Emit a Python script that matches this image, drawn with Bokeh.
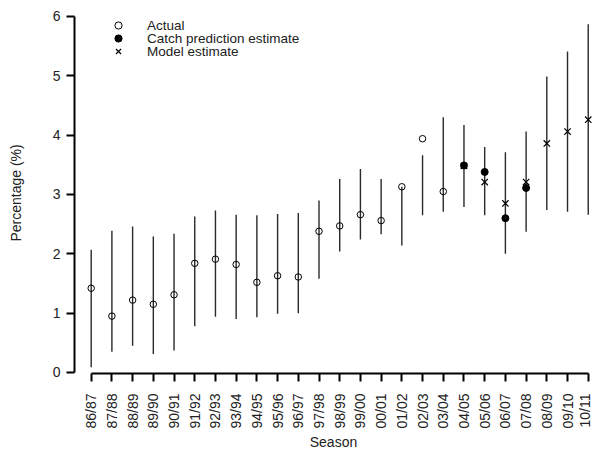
from math import pi
from bokeh.plotting import figure
from bokeh.models import FixedTicker, Legend, LegendItem, Range1d, ColumnDataSource
from bokeh.embed import file_html
from bokeh.resources import INLINE

seasons = ["86/87", "87/88", "88/89", "89/90", "90/91", "91/92", "92/93", "93/94",
           "94/95", "95/96", "96/97", "97/98", "98/99", "99/00", "00/01", "01/02",
           "02/03", "03/04", "04/05", "05/06", "06/07", "07/08", "08/09", "09/10", "10/11"]

actual = [1.42, 0.95, 1.22, 1.15, 1.31, 1.84, 1.91, 1.82, 1.52, 1.63, 1.61, 2.38,
          2.47, 2.66, 2.56, 3.13, 3.94, 3.05]
catch_pred = [3.49, 3.38, 2.60, 3.11]
catch_idx = [18, 19, 20, 21]
model = [3.48, 3.21, 2.85, 3.21, 3.86, 4.06, 4.26]
model_idx = [18, 19, 20, 21, 22, 23, 24]

upper = [2.07, 2.39, 2.46, 2.29, 2.34, 2.63, 2.73, 2.66, 2.65, 2.67, 2.69, 2.90,
         3.26, 3.43, 3.26, 3.13, 3.66, 4.30, 4.17, 3.80, 3.71, 4.06, 4.99, 5.41, 5.87]
lower = [0.09, 0.35, 0.45, 0.31, 0.37, 0.78, 0.94, 0.90, 0.93, 0.99, 1.00, 1.58,
         2.04, 2.24, 2.33, 2.14, 2.65, 2.71, 2.79, 2.65, 2.00, 2.37, 2.74, 2.71, 2.66]

legend_labels = ["Actual", "Catch prediction estimate", "Model estimate"]

xs = list(range(len(seasons)))

FONT = "Liberation Sans"

p = figure(width=592, height=452, output_backend="svg", toolbar_location=None,
           x_range=Range1d(-0.806, 24.206), y_range=Range1d(-0.017, 6.067),
           min_border_left=74, min_border_right=0, min_border_top=12, min_border_bottom=79)
p.outline_line_color = None
p.grid.visible = False
p.background_fill_color = "white"

bars = ColumnDataSource(dict(x=xs, lo=lower, hi=upper))
p.segment(x0="x", y0="lo", x1="x", y1="hi", source=bars, line_color="#2a2a2a", line_width=1.4)

r_act = p.scatter(xs[:len(actual)], actual, marker="circle", size=6.5,
                  line_color="black", fill_color=None, line_width=1)
r_cat = p.scatter(catch_idx, catch_pred, marker="circle", size=7,
                  line_color="black", fill_color="black")
r_mod = p.scatter(model_idx, model, marker="x", size=9, line_color="black", line_width=1.2)

# axes
xa = p.xaxis[0]
xa.ticker = FixedTicker(ticks=xs)
xa.major_label_overrides = {i: s for i, s in enumerate(seasons)}
xa.major_label_orientation = pi / 2
xa.bounds = (0, 24)
xa.axis_label = "Season"
ya = p.yaxis[0]
ya.ticker = FixedTicker(ticks=[0, 1, 2, 3, 4, 5, 6])
ya.bounds = (0, 6)
ya.axis_label = "Percentage (%)"

for ax in (xa, ya):
    ax.axis_line_width = 2
    ax.axis_line_color = "black"
    ax.major_tick_line_width = 2
    ax.major_tick_line_color = "black"
    ax.major_tick_in = 0
    ax.major_tick_out = 8
    ax.minor_tick_line_color = None
    ax.major_label_text_font = FONT
    ax.major_label_text_font_size = "14px"
    ax.major_label_text_color = "#222222"
    ax.axis_label_text_font = FONT
    ax.axis_label_text_font_size = "14px"
    ax.axis_label_text_font_style = "normal"
    ax.axis_label_text_color = "#222222"

xa.major_label_standoff = 12
xa.axis_label_standoff = 2
ya.major_label_standoff = 6
ya.axis_label_standoff = 26

# one legend per row so the rows can sit as close as in the reference
for lab, rend, ypos in zip(legend_labels, [r_act, r_cat, r_mod], [339, 326, 313]):
    lg = Legend(items=[LegendItem(label=lab, renderers=[rend])], location=(34, ypos))
    lg.border_line_color = None
    lg.background_fill_alpha = 0
    lg.padding = 0
    lg.margin = 0
    lg.spacing = 0
    lg.glyph_width = 20
    lg.glyph_height = 18
    lg.label_height = 18
    lg.label_standoff = 19
    lg.label_text_font = FONT
    lg.label_text_font_size = "13.5px"
    lg.label_text_color = "#222222"
    p.add_layout(lg, "center")

open("out.html", "w").write(file_html(p, INLINE))
